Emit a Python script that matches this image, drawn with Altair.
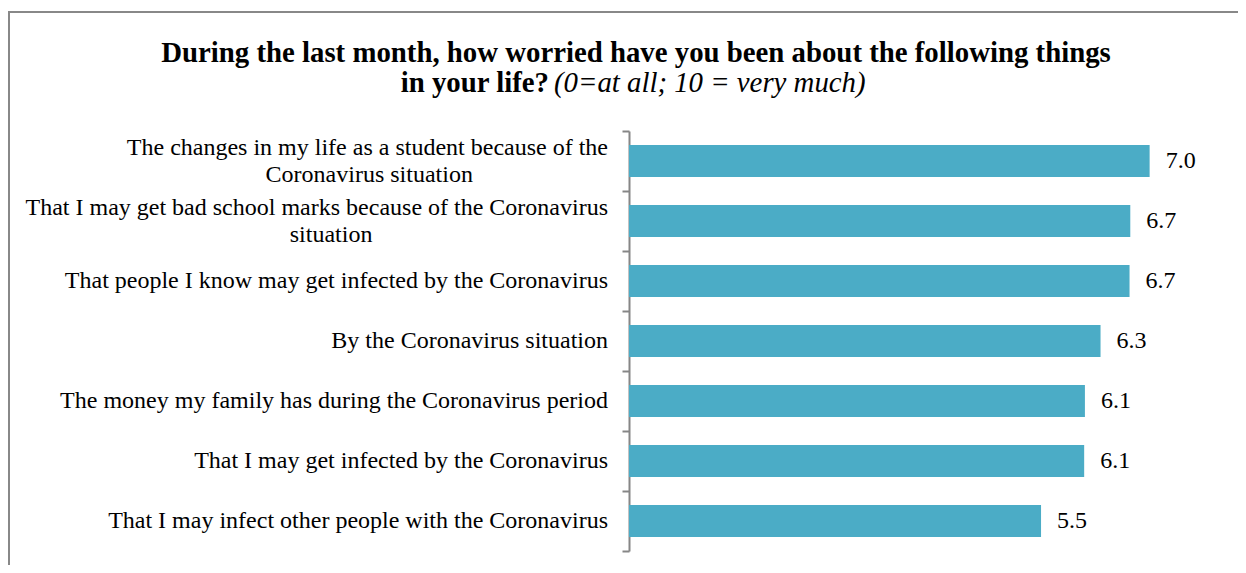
import altair as alt
import pandas as pd

categories = [
    "The changes in my life as a student because of the|Coronavirus situation",
    "That I may get bad school marks because of the Coronavirus|situation",
    "That people I know may get infected by the Coronavirus",
    "By the Coronavirus situation",
    "The money my family has during  the Coronavirus period",
    "That I may get infected by the Coronavirus",
    "That I may infect other people with the Coronavirus",
]
values = [7.0, 6.74, 6.73, 6.34, 6.13, 6.12, 5.54]

title_line1 = "During the last month, how worried have you been about the following things"
title_line2_bold = "in your life?"
title_line2_italic = "(0=at all; 10 = very much)"

SERIF = "Liberation Serif"
BAR = "#4BACC6"
GRAY = "#868686"
LABEL_X = -21          # right edge of the category labels, relative to the axis
CHAR_W = 9.55          # approx. average glyph width of the 24px label font

df = pd.DataFrame({"item": categories, "score": values})

base = alt.Chart(df)

y_enc = alt.Y(
    "item:N",
    sort=categories,
    title=None,
    scale=alt.Scale(paddingInner=0, paddingOuter=0),
    axis=alt.Axis(
        labels=False,
        tickBand="extent",
        tickSize=7,
        tickColor=GRAY,
        tickWidth=2,
        domainColor=GRAY,
        domainWidth=2,
        grid=False,
    ),
)

x_enc = alt.X(
    "score:Q",
    scale=alt.Scale(domain=[0, 8], nice=False),
    axis=None,
)

bars = base.mark_bar(color=BAR, height={"band": 0.53}).encode(y=y_enc, x=x_enc)

values_text = base.mark_text(
    align="left", baseline="middle", dx=16,
    font=SERIF, fontSize=24, color="#000000",
).encode(
    y=alt.Y("item:N", sort=categories),
    x=alt.X("score:Q"),
    text=alt.Text("score:Q", format=".1f"),
)

# category labels (one or two lines, centred on each band; wrapped lines centred)
lab = base.transform_calculate(
    parts="split(datum.item, '|')",
).transform_calculate(
    nlines="length(datum.parts)",
    first="datum.parts[0]",
    second="length(datum.parts) > 1 ? datum.parts[1] : ''",
    cx=f"{LABEL_X} - length(datum.parts[0]) * {CHAR_W} / 2",
)
lab_style = dict(baseline="middle", font=SERIF, fontSize=24, color="#000000")

lab_single = lab.transform_filter("datum.nlines == 1").mark_text(align="right", **lab_style).encode(
    y=alt.Y("item:N", sort=categories), x=alt.value(LABEL_X), text="first:N")
lab_top = lab.transform_filter("datum.nlines > 1").mark_text(align="right", dy=-13.5, **lab_style).encode(
    y=alt.Y("item:N", sort=categories), x=alt.value(LABEL_X), text="first:N")
lab_bottom = lab.transform_filter("datum.nlines > 1").mark_text(align="center", dy=13.5, **lab_style).encode(
    y=alt.Y("item:N", sort=categories), x=alt.X("cx:Q", scale=None), text="second:N")

t1 = alt.Chart(pd.DataFrame({"t": [title_line1]})).mark_text(
    align="center", baseline="alphabetic", font=SERIF, fontSize=28.8,
    fontWeight="bold", color="#000000",
).encode(x=alt.value(7), y=alt.value(-69), text="t:N")

t2a = alt.Chart(pd.DataFrame({"t": [title_line2_bold]})).mark_text(
    align="right", baseline="alphabetic", font=SERIF, fontSize=28.8,
    fontWeight="bold", color="#000000",
).encode(x=alt.value(-80), y=alt.value(-39), text="t:N")

t2b = alt.Chart(pd.DataFrame({"t": [title_line2_italic]})).mark_text(
    align="left", baseline="alphabetic", font=SERIF, fontSize=28.8,
    fontStyle="italic", color="#000000",
).encode(x=alt.value(-75), y=alt.value(-39), text="t:N")

border = alt.Chart(pd.DataFrame({"b": [0]})).mark_rect(
    fill=None, stroke="#888888", strokeWidth=2, clip=False,
).encode(
    x=alt.value(-620), x2=alt.value(900),
    y=alt.value(-119), y2=alt.value(700),
)

chart = alt.layer(
    border, bars, values_text, lab_single, lab_top, lab_bottom, t1, t2a, t2b
).properties(
    width=595,
    height=420,
    autosize=alt.AutoSizeParams(type="none"),
    padding={"left": 621, "top": 123, "right": 14, "bottom": 14},
).configure_view(stroke=None)

chart.save("out.html", embed_options={"renderer": "svg", "actions": False})
